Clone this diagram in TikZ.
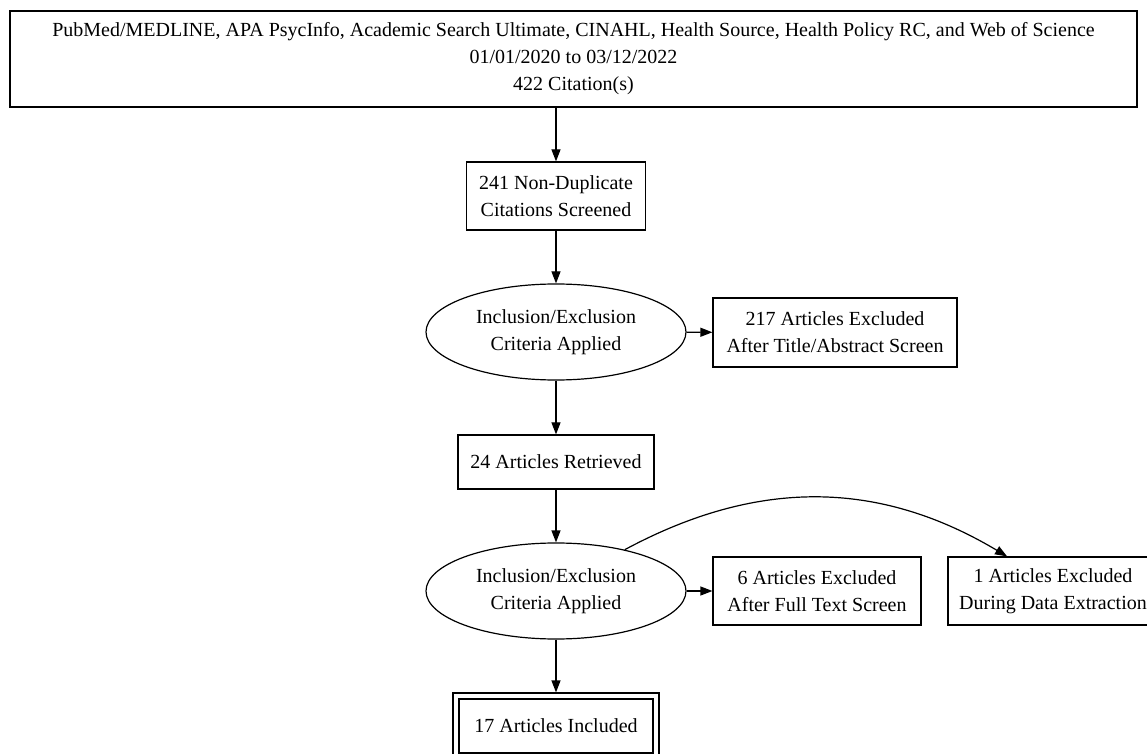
\documentclass[tikz,border=0pt]{standalone}
\usepackage{fontspec}
\setmainfont{Liberation Serif}
\usetikzlibrary{shapes.geometric, arrows.meta}
\tikzset{
  box/.style      = {rectangle, draw=black, line width=0.6pt, align=center,
                     inner sep=0pt, font=\fontsize{10}{13.5}\selectfont},
  criteria/.style = {ellipse, draw=black, line width=0.6pt, align=center,
                     inner sep=0pt, minimum width=130pt, minimum height=48pt,
                     font=\fontsize{10}{13.5}\selectfont},
  final/.style    = {box, double, double distance=2.4pt, outer sep=1.8pt},
  arrow/.style    = {-{Triangle[length=6pt, width=4.5pt]}, line width=0.6pt},
}

\begin{document}
\begin{tikzpicture}[x=0.5pt, y=-0.5pt]

    \useasboundingbox (0,0) rectangle (1147,754);

    \node[box, minimum width=563.5pt, minimum height=48pt] (search) at (573.5,59)
      {PubMed/MEDLINE, APA PsycInfo, Academic Search Ultimate, CINAHL, Health Source, Health Policy RC, and Web of Science\\
       01/01/2020 to 03/12/2022\\
       422 Citation(s)};

    \node[box, minimum width=89.5pt, minimum height=34pt] (screened) at (556,196)
      {241 Non-Duplicate\\ Citations Screened};

    \node[criteria] (crit1) at (556,332)
      {Inclusion/Exclusion\\ Criteria Applied};

    \node[box, minimum width=122pt, minimum height=34.5pt] (titleexcl) at (835,332.5)
      {217 Articles Excluded\\ After Title/Abstract Screen};

    \node[box, minimum width=98pt, minimum height=27pt] (retrieved) at (556,462)
      {24 Articles Retrieved};

    \node[criteria] (crit2) at (556,591)
      {Inclusion/Exclusion\\ Criteria Applied};

    \node[box, minimum width=104pt, minimum height=34pt] (textexcl) at (817,591)
      {6 Articles Excluded\\ After Full Text Screen};

    \node[box, minimum width=105pt, minimum height=34pt] (dataexcl) at (1053,591)
      {1 Articles Excluded\\ During Data Extraction};

    \node[final, minimum width=100pt, minimum height=30pt] (included) at (556,726)
      {17 Articles Included};

    \draw[arrow] (screened |- search.south) -- (screened);
    \draw[arrow] (screened)  -- (crit1);
    \draw[arrow] (crit1)     -- (titleexcl);
    \draw[arrow] (crit1)     -- (retrieved);
    \draw[arrow] (retrieved) -- (crit2);
    \draw[arrow] (crit2)     -- (textexcl);
    \draw[arrow] (crit2.31) .. controls +(132,-71) and +(-129,-77) .. (dataexcl.143);
    \draw[arrow] (crit2)     -- (included);

  \end{tikzpicture}
\end{document}
